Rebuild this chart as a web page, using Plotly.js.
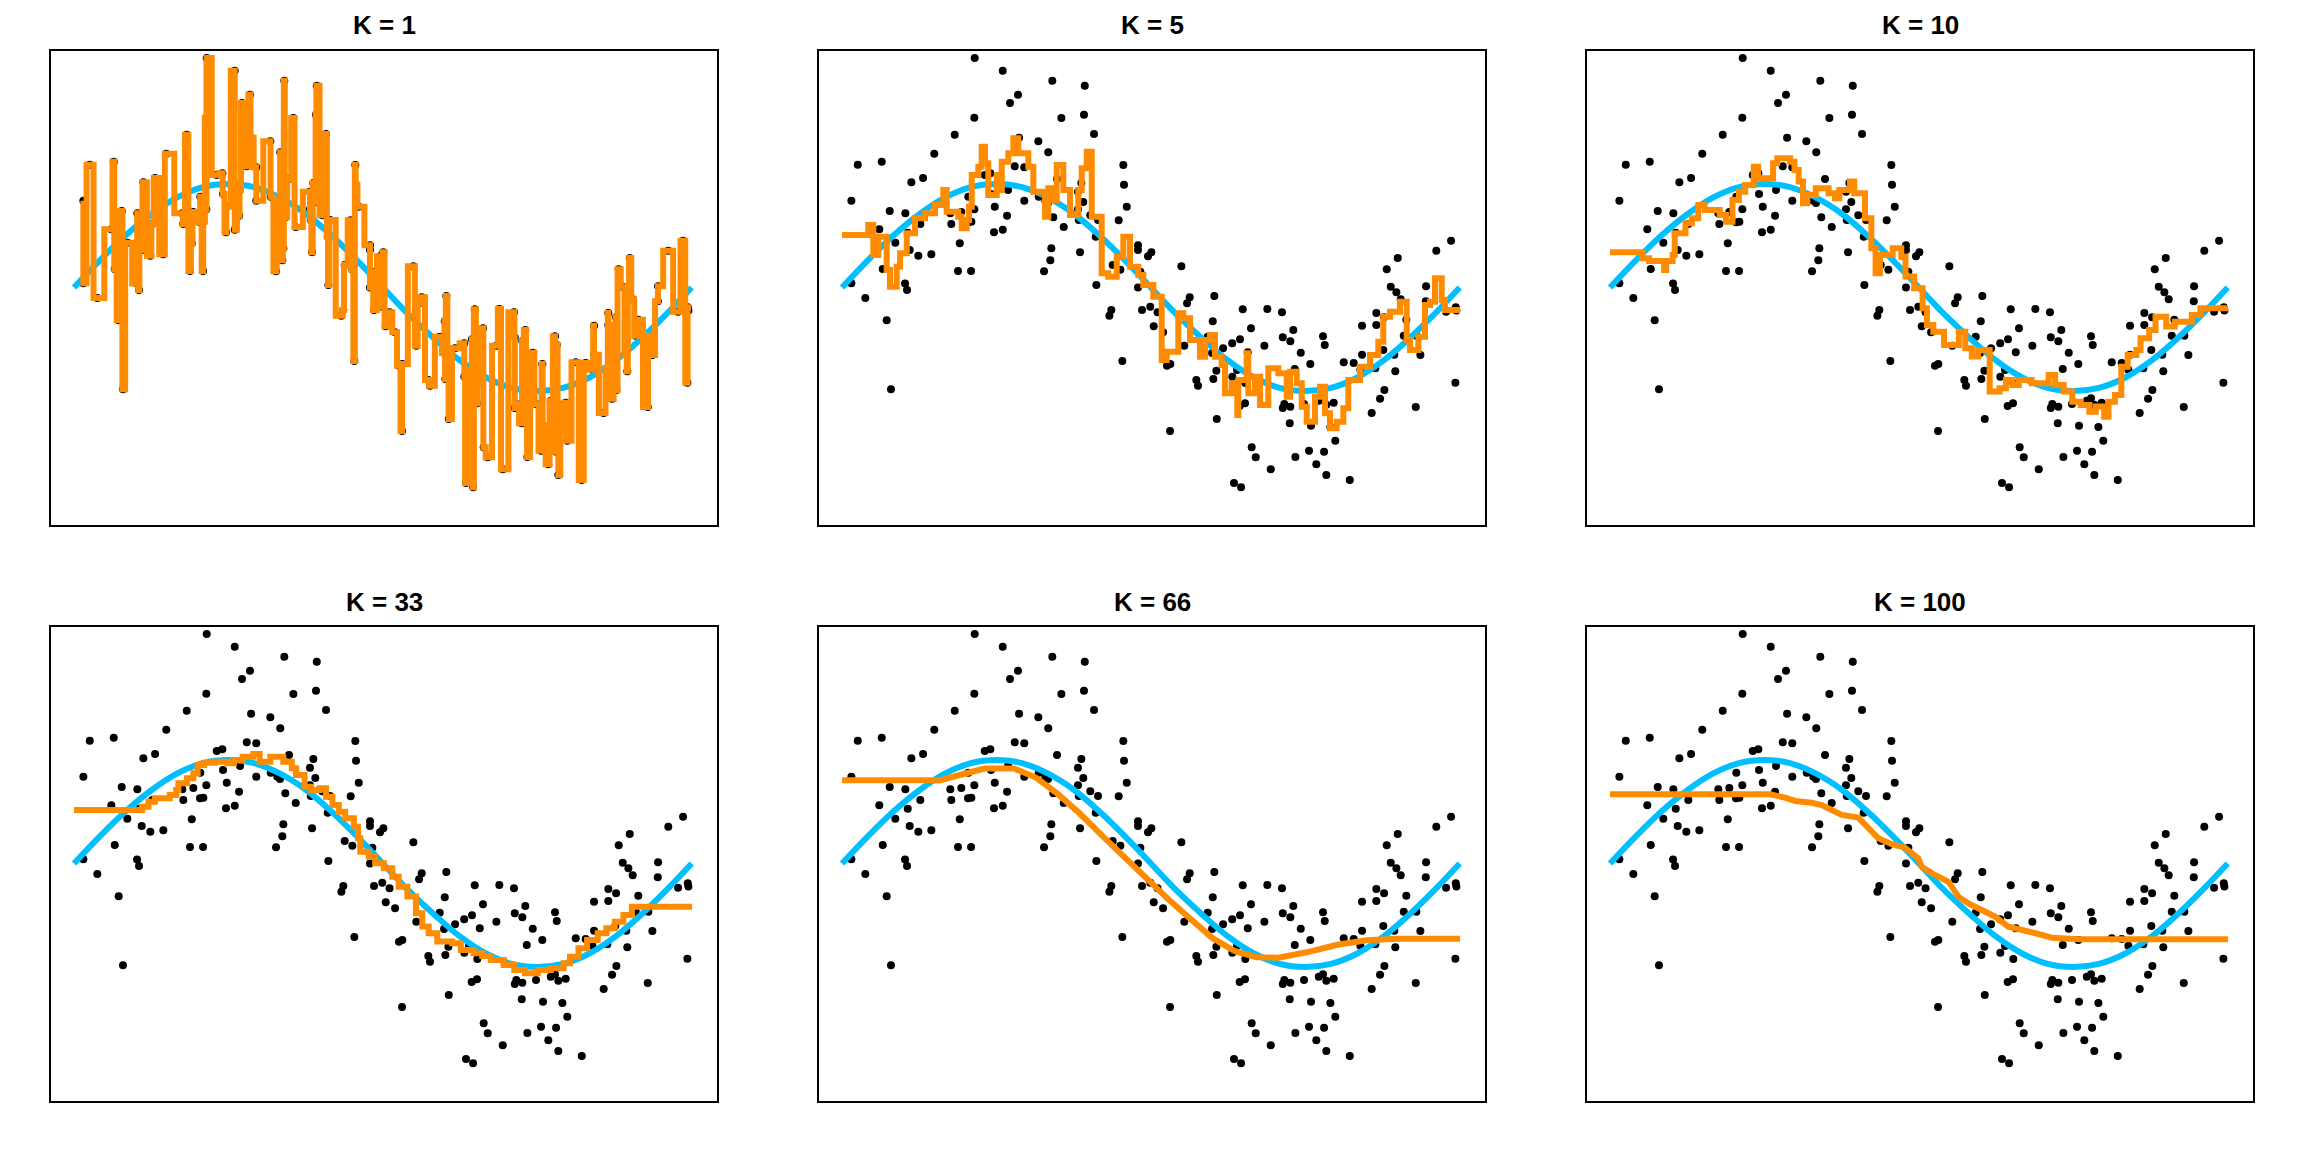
<!DOCTYPE html>
<html>
<head>
<meta charset="utf-8">
<script src="https://cdn.plot.ly/plotly-3.0.1.min.js"></script>
<style>
  html, body { margin: 0; padding: 0; background: #ffffff; }
  #chart { width: 2304px; height: 1152px; }
</style>
</head>
<body>
<div id="chart"></div>
<script>
// Observed sample (same in every panel), x over one period, y in units of the sine amplitude
const pointX = [
  1.349, 1.634, 2.138, 2.468, 1.789, 1.708, 2.460, 2.230, 1.345, 1.146,
  2.562, 1.800, 1.996, 2.097, 0.938, 0.160, 0.404, 2.860, 1.756, 1.853,
  1.451, 1.508, 0.824, 0.705, 2.186, 2.433, 2.867, 2.399, 1.515, 1.688,
  1.284, 0.095, 1.853, 2.000, 2.067, 2.094, 2.453, 1.553, 1.345, 2.895,
  0.485, 0.644, 1.101, 1.213, 2.399, 2.524, 2.148, 1.678, 2.603, 2.813,
  2.407, 0.796, 1.111, 1.281, 1.315, 0.379, 0.668, 1.545, 1.634, 2.254,
  0.542, 1.197, 2.579, 0.688, 0.776, 0.908, 2.128, 2.420, 3.009, 3.009,
  3.145, 3.111, 2.118, 0.414, 1.179, 1.312, 2.054, 2.752, 2.830, 3.033,
  0.095, 0.641, 2.586, 3.009, 0.661, 3.450, 6.192, 6.042, 5.650, 5.538,
  5.579, 5.938, 0.237, 0.454, 0.498, 2.738, 2.718, 3.050, 3.134, 3.208,
  3.169, 2.850, 3.264, 3.535, 3.508, 3.785, 4.074, 4.324, 4.473, 3.769,
  4.158, 4.588, 4.481, 4.558, 4.890, 4.908, 5.287, 5.432, 5.511, 5.432,
  5.636, 5.680, 5.935, 5.737, 6.141, 6.240, 6.246, 5.711, 5.839, 3.480,
  3.718, 4.046, 3.874, 3.762, 3.967, 4.125, 4.294, 4.664, 5.287, 5.503,
  5.615, 5.880, 5.101, 5.202, 4.761, 4.603, 5.270, 5.422, 5.625, 3.304,
  3.338, 3.806, 4.016, 3.602, 3.619, 3.775, 3.968, 4.100, 6.236, 5.514,
  5.470, 4.043, 4.097, 4.481, 4.497, 4.558, 4.697, 4.847, 4.890, 4.924,
  4.999, 5.385, 5.833, 3.810, 3.335, 4.552, 4.768, 4.965, 5.015, 4.165,
  4.206, 4.609, 4.748, 4.901, 4.822, 4.359, 4.924, 5.162, 3.985, 4.057
];
const pointY = [
  2.217, 2.095, 1.998, 1.950, 1.863, 1.783, 1.670, 1.638, 1.641, 1.476,
  1.483, 1.447, 1.413, 1.306, 1.293, 1.186, 1.215, 1.184, 1.171, 1.161,
  1.087, 1.103, 1.058, 1.016, 1.048, 1.010, 0.993, 0.926, 0.903, 0.942,
  0.877, 0.839, 0.839, 0.877, 0.839, 0.816, 0.826, 0.781, 0.756, 0.781,
  0.739, 0.717, 0.717, 0.729, 0.756, 0.698, 0.678, 0.694, 0.652, 0.649,
  0.652, 0.614, 0.614, 0.630, 0.636, 0.562, 0.529, 0.533, 0.558, 0.585,
  0.433, 0.427, 0.491, 0.362, 0.307, 0.321, 0.379, 0.340, 0.408, 0.362,
  0.340, 0.301, 0.263, 0.179, 0.159, 0.159, 0.157, 0.217, 0.172, 0.153,
  0.041, 0.039, 0.024, 0.000, -0.024, 0.205, 0.452, 0.356, 0.285, 0.176,
  0.007, 0.013, -0.101, -0.317, -0.984, -0.217, -0.272, -0.217, -0.186, -0.240,
  -0.375, -0.710, -0.433, -0.095, -0.153, -0.082, -0.211, -0.208, -0.240, -0.327,
  -0.394, -0.411, -0.481, -0.520, -0.472, -0.556, -0.369, -0.246, -0.288, -0.362,
  -0.046, -0.114, -0.133, -0.311, -0.234, -0.191, -0.222, -0.466, -0.466, -0.562,
  -0.475, -0.500, -0.587, -0.633, -0.539, -0.626, -0.562, -0.630, -0.649, -0.604,
  -0.649, -0.652, -0.723, -0.729, -0.739, -0.787, -0.794, -0.781, -0.810, -0.756,
  -0.739, -0.804, -0.797, -0.894, -0.949, -0.884, -0.862, -0.923, -0.920, -0.990,
  -1.074, -1.145, -1.119, -1.164, -1.126, -1.152, -1.126, -1.094, -1.071, -1.132,
  -1.113, -1.213, -1.155, -1.271, -1.387, -1.312, -1.335, -1.348, -1.480, -1.544,
  -1.641, -1.638, -1.577, -1.587, -1.708, -1.757, -1.812, -1.860, -1.889, -1.930
];

// True curve
const trueX = [0, 0.26, 0.52, 0.79, 1.05, 1.31, 1.57, 1.83, 2.09, 2.36, 2.62, 2.88, 3.14,
               3.40, 3.67, 3.93, 4.19, 4.45, 4.71, 4.97, 5.24, 5.50, 5.76, 6.02, 6.28];
const trueY = [0, 0.26, 0.50, 0.71, 0.87, 0.97, 1.00, 0.97, 0.87, 0.71, 0.50, 0.26, 0,
               -0.26, -0.50, -0.71, -0.87, -0.97, -1.00, -0.97, -0.87, -0.71, -0.50, -0.26, 0];

// KNN fits (step starts)
const fitK5X = [0, 0.267, 0.318, 0.369, 0.454, 0.488, 0.556, 0.590, 0.658, 0.742,
  0.844, 0.946, 1.030, 1.064, 1.182, 1.217, 1.268, 1.291, 1.319, 1.386,
  1.420, 1.454, 1.487, 1.573, 1.606, 1.624, 1.691, 1.742, 1.792, 1.894,
  1.945, 2.064, 2.097, 2.148, 2.183, 2.250, 2.318, 2.402, 2.437, 2.488,
  2.539, 2.640, 2.707, 2.793, 2.860, 2.928, 3.012, 3.063, 3.165, 3.250,
  3.301, 3.419, 3.470, 3.538, 3.640, 3.691, 3.741, 3.792, 3.860, 3.894,
  3.962, 4.019, 4.029, 4.114, 4.131, 4.199, 4.250, 4.334, 4.436, 4.521,
  4.555, 4.623, 4.674, 4.725, 4.809, 4.860, 4.911, 4.961, 5.029, 5.097,
  5.147, 5.266, 5.368, 5.452, 5.503, 5.571, 5.673, 5.741, 5.775, 5.859,
  5.927, 5.978, 6.029, 6.097, 6.131, 6.283];
const fitK5Y = [0.507, 0.604, 0.314, 0.491, 0.169, 0.008, 0.201, 0.330, 0.524, 0.669,
  0.717, 0.797, 0.942, 0.732, 0.684, 0.572, 0.652, 0.781, 1.087, 1.167,
  1.360, 1.200, 0.894, 1.087, 0.942, 1.215, 1.297, 1.442, 1.297, 1.167,
  0.926, 0.684, 0.958, 0.845, 1.184, 0.942, 0.700, 0.942, 1.152, 1.312,
  0.684, 0.137, 0.104, 0.298, 0.491, 0.201, 0.121, 0.024, -0.089, -0.700,
  -0.620, -0.249, -0.298, -0.507, -0.669, -0.507, -0.459, -0.669, -0.749, -1.022,
  -0.926, -1.232, -0.894, -0.636, -1.022, -0.862, -1.135, -0.781, -0.829, -1.055,
  -0.814, -0.926, -1.152, -1.297, -1.055, -0.958, -1.215, -1.360, -1.297, -1.167,
  -0.894, -0.765, -0.652, -0.524, -0.282, -0.234, -0.137, -0.507, -0.604, -0.475,
  -0.169, -0.137, 0.089, -0.121, -0.217, -0.217];

const fitK10X = [0, 0.332, 0.398, 0.550, 0.571, 0.637, 0.658, 0.767, 0.832, 0.897,
  0.962, 1.115, 1.179, 1.245, 1.310, 1.375, 1.462, 1.505, 1.658, 1.701,
  1.831, 1.875, 1.918, 1.962, 2.005, 2.092, 2.222, 2.288, 2.331, 2.440,
  2.483, 2.592, 2.657, 2.700, 2.744, 2.874, 2.961, 3.004, 3.092, 3.178,
  3.222, 3.287, 3.396, 3.547, 3.612, 3.678, 3.743, 3.860, 3.960, 4.025,
  4.091, 4.156, 4.286, 4.460, 4.525, 4.612, 4.699, 4.786, 4.873, 4.938,
  5.024, 5.068, 5.133, 5.198, 5.263, 5.351, 5.394, 5.481, 5.546, 5.655,
  5.741, 5.915, 6.002, 6.283];
const fitK10Y = [0.340, 0.282, 0.256, 0.169, 0.256, 0.314, 0.523, 0.620, 0.668, 0.797,
  0.749, 0.700, 0.636, 0.845, 0.926, 0.990, 1.167, 1.055, 1.200, 1.248,
  1.216, 1.135, 1.023, 0.813, 0.894, 0.958, 0.910, 0.861, 0.942, 1.023,
  0.910, 0.668, 0.378, 0.137, 0.314, 0.378, 0.298, 0.105, -0.008, -0.201,
  -0.362, -0.427, -0.556, -0.427, -0.588, -0.668, -0.604, -1.006, -0.974, -0.894,
  -0.942, -0.894, -0.926, -0.845, -0.942, -1.006, -1.103, -1.135, -1.200, -1.151,
  -1.248, -1.103, -1.039, -0.765, -0.652, -0.604, -0.491, -0.411, -0.282, -0.378,
  -0.330, -0.266, -0.201, -0.201];

const fitK33X = [0, 0.691, 0.757, 0.822, 0.974, 1.039, 1.061, 1.148, 1.213, 1.257,
  1.322, 1.431, 1.561, 1.627, 1.714, 1.823, 1.888, 1.996, 2.127, 2.214,
  2.257, 2.344, 2.410, 2.497, 2.562, 2.627, 2.692, 2.757, 2.845, 2.888,
  2.910, 2.997, 3.062, 3.150, 3.236, 3.301, 3.389, 3.476, 3.541, 3.606,
  3.693, 3.845, 3.933, 4.063, 4.150, 4.237, 4.368, 4.476, 4.585, 4.715,
  4.846, 4.977, 5.042, 5.129, 5.216, 5.324, 5.412, 5.498, 5.586, 5.672, 6.283];
const fitK33Y = [0.517, 0.549, 0.597, 0.630, 0.662, 0.710, 0.775, 0.823, 0.871, 0.952,
  0.974, 0.984, 0.968, 1.000, 1.032, 1.058, 0.984, 1.032, 0.984, 0.919,
  0.855, 0.742, 0.710, 0.726, 0.646, 0.565, 0.501, 0.436, 0.356, 0.243,
  0.114, 0.066, 0.002, -0.047, -0.127, -0.224, -0.320, -0.481, -0.610, -0.675,
  -0.755, -0.771, -0.836, -0.868, -0.894, -0.932, -0.981, -1.029, -1.061, -1.029,
  -1.013, -0.965, -0.900, -0.820, -0.739, -0.675, -0.626, -0.562, -0.498, -0.417, -0.417];

const fitK66X = [0, 1.001, 1.225, 1.449, 1.748, 1.972, 2.196, 2.420, 2.644, 2.868,
  3.093, 3.317, 3.541, 3.765, 3.989, 4.213, 4.437, 4.736, 5.034, 5.333, 5.632, 6.283];
const fitK66Y = [0.805, 0.805, 0.862, 0.918, 0.918, 0.830, 0.670, 0.480, 0.270, 0.060,
  -0.150, -0.345, -0.535, -0.720, -0.845, -0.905, -0.910, -0.856, -0.785, -0.742, -0.728, -0.728];

const fitK100X = [0, 1.627, 1.779, 1.881, 2.051, 2.152, 2.254, 2.356, 2.524, 2.626,
  2.728, 2.864, 2.999, 3.134, 3.169, 3.304, 3.440, 3.541, 3.643, 3.779,
  3.914, 4.050, 4.219, 4.355, 4.491, 4.694, 4.779, 6.283];
const fitK100Y = [0.669, 0.669, 0.636, 0.604, 0.587, 0.565, 0.517, 0.469, 0.443, 0.340,
  0.243, 0.186, 0.153, 0.050, -0.031, -0.111, -0.176, -0.321, -0.385, -0.449,
  -0.514, -0.611, -0.643, -0.681, -0.717, -0.729, -0.732, -0.732];

const kLabels = ["K = 1", "K = 5", "K = 10", "K = 33", "K = 66", "K = 100"];

const DOT = "#000000";
const TRUE_COLOR = "#00BFFF";
const FIT_COLOR = "#FF8C00";
const W = 2304, H = 1152;

// K = 1 passes through every observation: sort the sample and step at midpoints
const order = pointX.map((_, i) => i).sort((a, b) => pointX[a] - pointX[b]);
const k1X = order.map((i) => pointX[i]);
const k1Y = order.map((i) => pointY[i]);

const fits = [
  { x: k1X, y: k1Y, shape: "hvh" },
  { x: fitK5X, y: fitK5Y, shape: "hv" },
  { x: fitK10X, y: fitK10Y, shape: "hv" },
  { x: fitK33X, y: fitK33Y, shape: "hv" },
  { x: fitK66X, y: fitK66Y, shape: "linear" },
  { x: fitK100X, y: fitK100Y, shape: "linear" },
];

const traces = [];
const layout = {
  width: W,
  height: H,
  margin: { l: 0, r: 0, t: 0, b: 0 },
  paper_bgcolor: "#ffffff",
  plot_bgcolor: "#ffffff",
  showlegend: false,
  annotations: [],
};

fits.forEach((fit, i) => {
  const n = i + 1;
  const suffix = n === 1 ? "" : String(n);
  const col = i % 3;
  const row = Math.floor(i / 3);

  // plot box in page pixels (2 x 3 grid, R-style margins)
  const left = 51 + 768 * col;
  const right = 717 + 768 * col;
  const top = 51 + 576 * row;
  const bottom = 525 + 576 * row;

  const axisStyle = {
    showgrid: false,
    zeroline: false,
    showticklabels: false,
    ticks: "",
    showline: true,
    mirror: true,
    linecolor: "#000000",
    linewidth: 2,
    fixedrange: true,
  };

  layout["xaxis" + suffix] = Object.assign({}, axisStyle, {
    domain: [left / W, right / W],
    range: [-0.234, 6.537],
    anchor: "y" + suffix,
  });
  layout["yaxis" + suffix] = Object.assign({}, axisStyle, {
    domain: [1 - bottom / H, 1 - top / H],
    range: [-2.295, 2.285],
    anchor: "x" + suffix,
  });

  traces.push({
    type: "scatter",
    mode: "markers",
    x: pointX,
    y: pointY,
    xaxis: "x" + suffix,
    yaxis: "y" + suffix,
    marker: { color: DOT, size: 8 },
    hoverinfo: "skip",
  });
  traces.push({
    type: "scatter",
    mode: "lines",
    x: trueX,
    y: trueY,
    xaxis: "x" + suffix,
    yaxis: "y" + suffix,
    line: { color: TRUE_COLOR, width: 6, shape: "spline" },
    hoverinfo: "skip",
  });
  traces.push({
    type: "scatter",
    mode: "lines",
    x: fit.x,
    y: fit.y,
    xaxis: "x" + suffix,
    yaxis: "y" + suffix,
    line: { color: FIT_COLOR, width: 6, shape: fit.shape },
    hoverinfo: "skip",
  });

  layout.annotations.push({
    text: "<b>" + kLabels[i] + "</b>",
    xref: "paper",
    yref: "paper",
    x: (left + right) / 2 / W,
    y: 1 - (25.5 + 576 * row) / H,
    xanchor: "center",
    yanchor: "middle",
    showarrow: false,
    font: { family: "Liberation Sans, Arial, sans-serif", size: 26, color: "#000000" },
  });
});

Plotly.newPlot("chart", traces, layout, { staticPlot: true, displayModeBar: false });
</script>
</body>
</html>
